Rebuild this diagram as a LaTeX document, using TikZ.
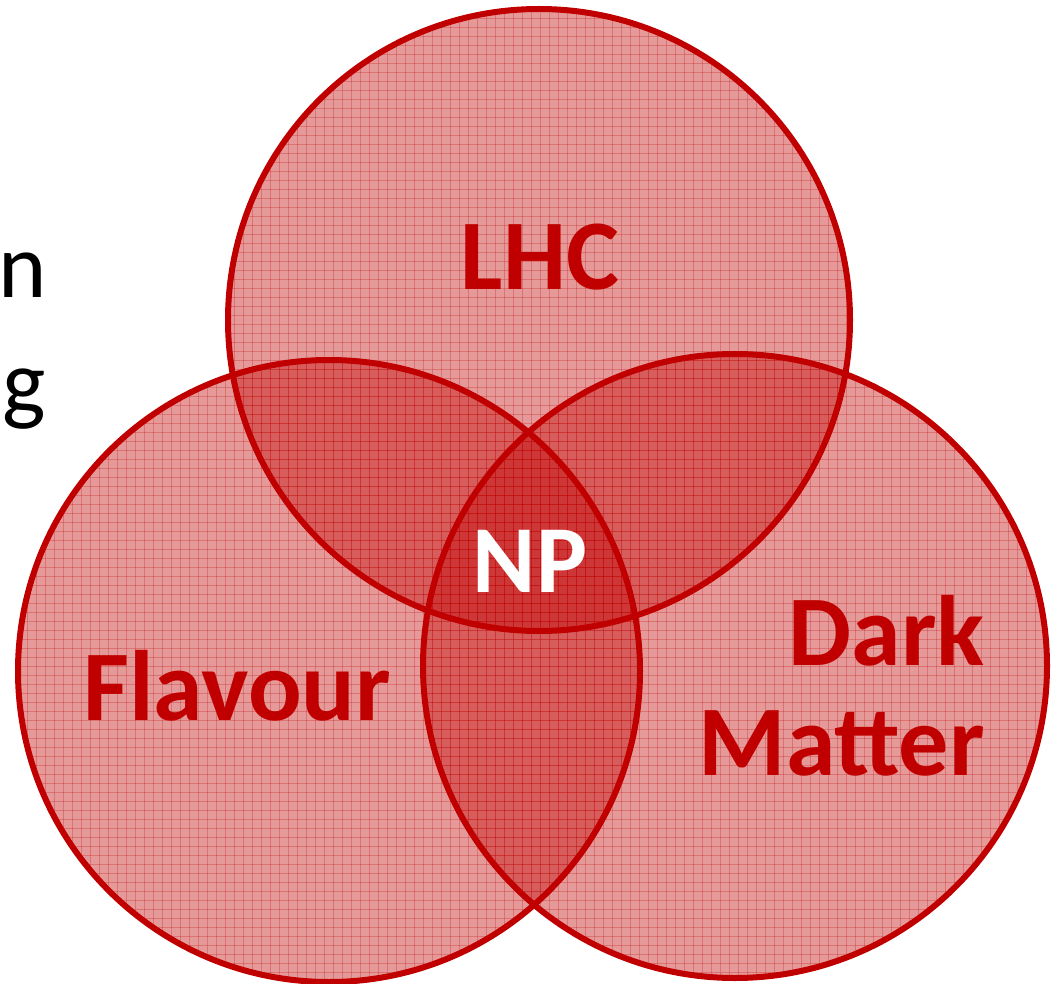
\documentclass[tikz,border=0pt]{standalone}
\usepackage{fontspec}
\setmainfont{Carlito}
\definecolor{vred}{HTML}{C00000}
\begin{document}
\begin{tikzpicture}[x=1pt,y=-1pt,
  circfill/.style={fill=vred,fill opacity=0.40},
  circline/.style={draw=vred,line width=6pt},
  gridl/.style={draw=vred,line width=0.8pt,opacity=0.25},
  lbl/.style={text=vred,font=\fontsize{100}{110}\selectfont\bfseries,inner sep=0pt},
  side/.style={text=black,font=\fontsize{92}{110}\selectfont,inner sep=0pt}]
\useasboundingbox (0,0) rectangle (1052,984);
\coordinate (ct) at (539,320);
\coordinate (cl) at (329,671);
\coordinate (cr) at (735,666);
% fills
\foreach \c in {ct,cl,cr}{
  \fill[circfill] (\c) circle[radius=311];
  \begin{scope}
    \clip (\c) circle[radius=311];
    \foreach \k in {0,9,...,1052}{
      \draw[gridl] (\k,0) -- (\k,984);
    }
    \foreach \k in {0,9,...,984}{
      \draw[gridl] (0,\k) -- (1052,\k);
    }
  \end{scope}
}
% outlines
\node[circle,circline,minimum size=622pt,inner sep=0pt] (top) at (ct) {};
\node[circle,circline,minimum size=622pt,inner sep=0pt] (left) at (cl) {};
\node[circle,circline,minimum size=624pt,inner sep=0pt] (right) at (cr) {};
% labels
\node[lbl,anchor=base] (lhc) at (540,290) {LHC};
\node[lbl,anchor=base,text=white,font=\fontsize{96}{110}\selectfont\bfseries] (np) at (530,592) {NP};
\node[lbl,anchor=base] (flav) at (237,720) {Flavour};
\node[lbl,anchor=base east] (dark) at (985,665) {Dark};
\node[lbl,anchor=base east] (matter) at (985,775) {Matter};
\node[side,anchor=base west] (n) at (-2,298) {n};
\node[side,anchor=base west] (g) at (2,413) {g};
\end{tikzpicture}
\end{document}
